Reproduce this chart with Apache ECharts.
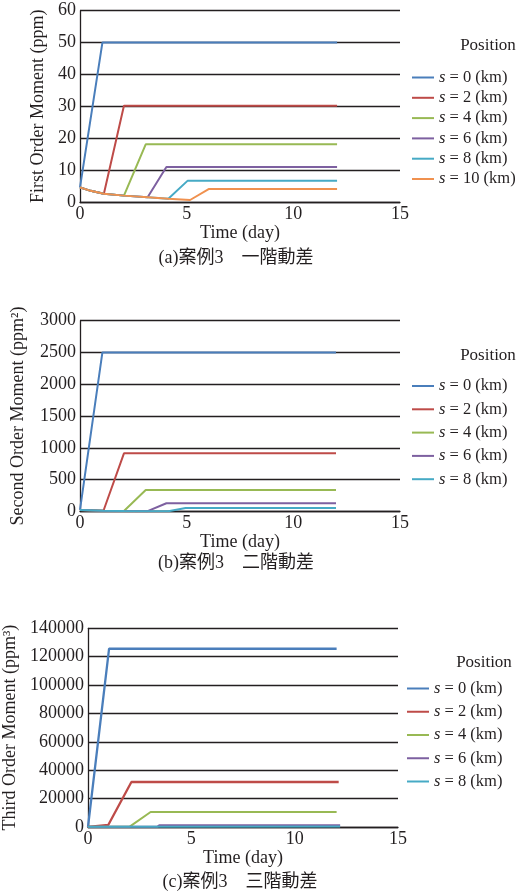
<!DOCTYPE html>
<html><head><meta charset="utf-8">
<script src="https://cdn.jsdelivr.net/npm/echarts@6/dist/echarts.min.js"></script>
<style>html,body{margin:0;padding:0;background:#fff}#c{width:526px;height:892px}</style>
</head><body><div id="c"></div>
<script>
// ---- data ----
const seriesNames1 = ['s = 0 (km)','s = 2 (km)','s = 4 (km)','s = 6 (km)','s = 8 (km)','s = 10 (km)'];
const seriesNames2 = ['s = 0 (km)','s = 2 (km)','s = 4 (km)','s = 6 (km)','s = 8 (km)'];
const xTicks = [0, 5, 10, 15];

const first_s0  = [[0,4.6],[1.05,50],[12.05,50]];
const first_s2  = [[0,4.6],[0.5,3.5],[1.12,2.6],[2.06,30.2],[12.05,30.2]];
const first_s4  = [[0,4.6],[0.5,3.5],[1.12,2.6],[2.06,2.0],[3.08,18.1],[12.05,18.1]];
const first_s6  = [[0,4.6],[0.5,3.5],[1.12,2.6],[2.06,2.0],[3.17,1.5],[4.05,11.0],[12.05,11.0]];
const first_s8  = [[0,4.6],[0.5,3.5],[1.12,2.6],[2.06,2.0],[3.17,1.5],[4.14,1.05],[5.05,6.7],[12.05,6.7]];
const first_s10 = [[0,4.6],[0.5,3.5],[1.12,2.6],[2.06,2.0],[3.17,1.5],[4.14,1.05],[5.16,0.63],[6.05,4.1],[12.05,4.1]];

const second_s0 = [[0,22],[1.05,2500],[12.0,2500]];
const second_s2 = [[0,22],[1.1,9],[2.06,913],[12.0,913]];
const second_s4 = [[0,22],[1.1,9],[2.06,4],[3.08,335],[12.0,335]];
const second_s6 = [[0,22],[1.1,9],[2.06,4],[3.17,2],[4.05,126],[12.0,126]];
const second_s8 = [[0,22],[1.1,9],[2.06,4],[3.17,2],[4.14,1],[4.95,52],[12.0,52]];

const third_s0 = [[0,100],[1.02,125600],[12.03,125600]];
const third_s2 = [[0,100],[0.98,1400],[2.1,31700],[12.13,31700]];
const third_s4 = [[0,100],[2.0,100],[3.03,10600],[12.03,10600]];
const third_s6 = [[0,100],[3.35,100],[3.45,1300],[12.2,1300]];
const third_s8 = [[0,100],[12.2,300]];

const colors = ['#4a7ebb','#be4b48','#98b954','#7d60a0','#46aac5','#f0914f'];

// ---- chart ----
const TXT = '#231f20';
const SERIF = '"Liberation Serif","Times New Roman",serif';
const chart = echarts.init(document.getElementById('c'), null, {renderer:'canvas'});

function xAxis(g){
  return {type:'value', gridIndex:g, min:0, max:15, interval:5,
    axisLine:{show:true, onZero:false, lineStyle:{color:TXT, width:1.3}},
    axisTick:{show:false}, splitLine:{show:false},
    axisLabel:{fontSize:18, fontFamily:SERIF, color:TXT, margin:3, formatter: v => String(v)},
    name:'Time (day)', nameLocation:'middle', nameGap:21,
    nameTextStyle:{fontSize:18, fontFamily:SERIF, color:TXT}};
}
function yAxis(g, max, interval, name, gap){
  return {type:'value', gridIndex:g, min:0, max:max, interval:interval,
    axisLine:{show:true, lineStyle:{color:TXT, width:1.3}},
    axisTick:{show:false},
    splitLine:{show:true, lineStyle:{color:TXT, width:1.3}},
    axisLabel:{fontSize:18, fontFamily:SERIF, color:TXT, margin:4, formatter: v => String(v)},
    name:name, nameLocation:'middle', nameGap:gap, nameRotate:90,
    nameTextStyle:{fontSize:18, fontFamily:SERIF, color:TXT}};
}
function line(name, data, g, ci, w){
  return {type:'line', name:name, data:data, xAxisIndex:g, yAxisIndex:g,
    symbol:'none', silent:true, animation:false,
    lineStyle:{color:colors[ci], width:w||2}, itemStyle:{color:colors[ci]}};
}
function legend(names, left, top, gap){
  return {orient:'vertical', left:left, top:top, data:names, icon:'rect', padding:0,
    itemWidth:22, itemHeight:2, itemGap:gap,
    formatter: n => '{i|s}' + n.slice(1),
    textStyle:{fontSize:16.5, fontFamily:SERIF, color:TXT, lineHeight:18,
      rich:{i:{fontStyle:'italic', fontSize:16.5, fontFamily:SERIF, color:TXT}}}};
}
function label(text, x, y, size){
  return {type:'text', x:x, y:y, silent:true,
    style:{text:text, x:0, y:0, fill:TXT, font:size+'px '+SERIF+',"Noto Sans CJK TC"',
      textAlign:'center', textVerticalAlign:'middle'}};
}

chart.setOption({
  animation:false,
  grid:[
    {left:80, top:10.7, width:320, height:191.3, outerBoundsMode:'none', containLabel:false},
    {left:80, top:320.7, width:320, height:190.6, outerBoundsMode:'none', containLabel:false},
    {left:88, top:628.3, width:310, height:198.7, outerBoundsMode:'none', containLabel:false}
  ],
  xAxis:[xAxis(0), xAxis(1), xAxis(2)],
  yAxis:[
    yAxis(0, 60, 10, 'First Order Moment (ppm)', 33),
    yAxis(1, 3000, 500, 'Second Order Moment (ppm²)', 53),
    yAxis(2, 140000, 20000, 'Third Order Moment (ppm³)', 65)
  ],
  legend:[
    legend(seriesNames1, 412, 68.5, 2.3),
    legend(seriesNames2, 412, 377, 5.3),
    legend(seriesNames2, 407, 679.5, 5.25)
  ],
  graphic:[
    label('Position', 488, 46, 17),
    label('Position', 488, 356, 17),
    label('Position', 484, 663, 17),
    label('(a)案例3　一階動差', 236, 258, 18),
    label('(b)案例3　二階動差', 236, 563, 18),
    label('(c)案例3　三階動差', 240, 882, 18)
  ],
  series:[
    line(seriesNames1[0], first_s0, 0, 0),
    line(seriesNames1[1], first_s2, 0, 1),
    line(seriesNames1[2], first_s4, 0, 2),
    line(seriesNames1[3], first_s6, 0, 3),
    line(seriesNames1[4], first_s8, 0, 4),
    line(seriesNames1[5], first_s10, 0, 5),
    line(seriesNames2[0], second_s0, 1, 0),
    line(seriesNames2[1], second_s2, 1, 1),
    line(seriesNames2[2], second_s4, 1, 2),
    line(seriesNames2[3], second_s6, 1, 3),
    line(seriesNames2[4], second_s8, 1, 4),
    line(seriesNames2[0], third_s0, 2, 0, 2.3),
    line(seriesNames2[1], third_s2, 2, 1, 2.3),
    line(seriesNames2[2], third_s4, 2, 2),
    line(seriesNames2[3], third_s6, 2, 3),
    line(seriesNames2[4], third_s8, 2, 4)
  ]
});
</script></body></html>
